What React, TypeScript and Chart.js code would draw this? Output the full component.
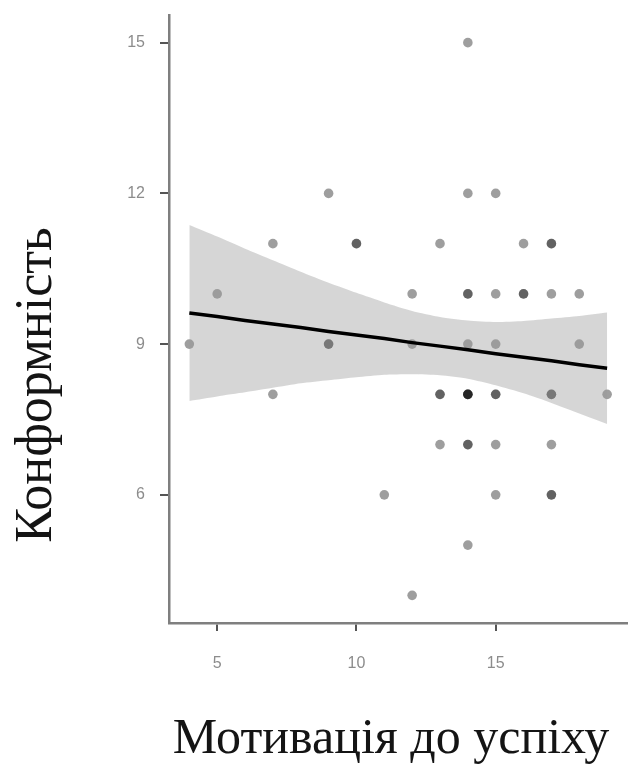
import React, { useEffect, useRef } from "react";
import { Chart, registerables } from "chart.js";

Chart.register(...registerables);

// Observations (motivation, conformity); repeated pairs are overlapping respondents
const motivation = [
  14,
  9, 14, 15,
  7, 10, 10, 13, 16, 17, 17,
  5, 12, 14, 14, 15, 16, 16, 17, 18,
  4, 9, 9, 12, 14, 15, 18,
  7, 13, 13, 14, 14, 14, 14, 15, 15, 17, 17, 19,
  13, 14, 14, 15, 17,
  11, 15, 17, 17,
  14,
  12,
];
const conformity = [
  15,
  12, 12, 12,
  11, 11, 11, 11, 11, 11, 11,
  10, 10, 10, 10, 10, 10, 10, 10, 10,
  9, 9, 9, 9, 9, 9, 9,
  8, 8, 8, 8, 8, 8, 8, 8, 8, 8, 8, 8,
  7, 7, 7, 7, 7,
  6, 6, 6, 6,
  5,
  4,
];

// Fitted line and 95% confidence band
const fitX = [4, 5, 6, 7, 8, 9, 10, 11, 12, 13, 14, 15, 16, 17, 18, 19];
const fitY = [9.62, 9.55, 9.47, 9.4, 9.33, 9.25, 9.18, 9.11, 9.03, 8.96, 8.89, 8.81, 8.74, 8.67, 8.59, 8.52];
const bandUpper = [11.37, 11.14, 10.9, 10.67, 10.44, 10.22, 10.02, 9.83, 9.66, 9.54, 9.47, 9.44, 9.46, 9.51, 9.56, 9.63];
const bandLower = [7.87, 7.96, 8.04, 8.13, 8.22, 8.28, 8.34, 8.39, 8.4, 8.38, 8.31, 8.18, 8.02, 7.83, 7.62, 7.41];

const xTicks = [5, 10, 15];
const yTicks = [6, 9, 12, 15];

const xTitle = "Мотивація до успіху";
const yTitle = "Конформність";

export default function App() {
  const ref = useRef<HTMLCanvasElement | null>(null);

  useEffect(() => {
    if (!ref.current) return;
    const titlePlugin = {
      id: "axisTitles",
      afterDraw(chart: any) {
        const ctx = chart.ctx;
        ctx.save();
        ctx.fillStyle = "#141414";
        ctx.textAlign = "center";
        ctx.textBaseline = "alphabetic";
        ctx.font = '50px "Liberation Serif", "DejaVu Serif", serif';
        ctx.fillText(xTitle, 391, 753);
        ctx.translate(51, 385);
        ctx.rotate(-Math.PI / 2);
        ctx.font = '52px "Liberation Serif", "DejaVu Serif", serif';
        ctx.fillText(yTitle, 0, 0);
        ctx.restore();
      },
    };

    const chart = new Chart(ref.current, {
      type: "scatter",
      data: {
        datasets: [
          {
            type: "line",
            data: fitX.map((x, i) => ({ x, y: fitY[i] })),
            borderColor: "#000000",
            borderWidth: 3.5,
            pointRadius: 0,
            fill: false,
            order: 0,
          } as any,
          {
            type: "line",
            data: fitX.map((x, i) => ({ x, y: bandUpper[i] })),
            borderWidth: 0,
            borderColor: "rgba(0,0,0,0)",
            backgroundColor: "rgba(153,153,153,0.4)",
            pointRadius: 0,
            fill: "+1",
            tension: 0.2,
            order: 1,
          } as any,
          {
            type: "line",
            data: fitX.map((x, i) => ({ x, y: bandLower[i] })),
            borderWidth: 0,
            borderColor: "rgba(0,0,0,0)",
            pointRadius: 0,
            fill: false,
            tension: 0.2,
            order: 2,
          } as any,
          {
            type: "scatter",
            data: motivation.map((x, i) => ({ x, y: conformity[i] })),
            backgroundColor: "rgba(0,0,0,0.38)",
            borderWidth: 0,
            pointRadius: 4.8,
            order: 3,
          } as any,
        ],
      },
      options: {
        responsive: false,
        animation: false,
        layout: { autoPadding: false, padding: { top: 15, right: 0, left: 0, bottom: 0 } },
        plugins: {
          legend: { display: false },
          tooltip: { enabled: false },
        },
        scales: {
          x: {
            type: "linear",
            min: 3.27,
            max: 19.75,
            afterFit: (s: any) => {
              s.height = 148;
              s.paddingLeft = 0;
              s.paddingRight = 0;
            },
            afterBuildTicks: (s: any) => {
              s.ticks = xTicks.map((v) => ({ value: v }));
            },
            grid: {
              drawOnChartArea: false,
              drawTicks: true,
              tickLength: 8,
              color: "#555555",
              lineWidth: 2,
            },
            border: { display: true, color: "#7f7f7f", width: 2.5 },
            ticks: {
              color: "#8c8c8c",
              font: { family: '"Liberation Sans", Arial, sans-serif', size: 16 },
              padding: 23,
            },
          },
          y: {
            type: "linear",
            min: 3.45,
            max: 15.55,
            afterFit: (s: any) => {
              s.width = 169;
              s.paddingTop = 0;
              s.paddingBottom = 0;
            },
            afterBuildTicks: (s: any) => {
              s.ticks = yTicks.map((v) => ({ value: v }));
            },
            grid: {
              drawOnChartArea: false,
              drawTicks: true,
              tickLength: 9,
              color: "#555555",
              lineWidth: 2,
            },
            border: { display: true, color: "#7f7f7f", width: 2.5 },
            ticks: {
              color: "#8c8c8c",
              font: { family: '"Liberation Sans", Arial, sans-serif', size: 16 },
              padding: 15,
            },
          },
        },
      },
      plugins: [titlePlugin],
    });
    return () => chart.destroy();
  }, []);

  return (
    <div style={{ position: "fixed", left: 0, top: 0, width: 628, height: 771, background: "#ffffff" }}>
      <canvas ref={ref} width={628} height={771} style={{ display: "block", width: 628, height: 771 }} />
    </div>
  );
}
